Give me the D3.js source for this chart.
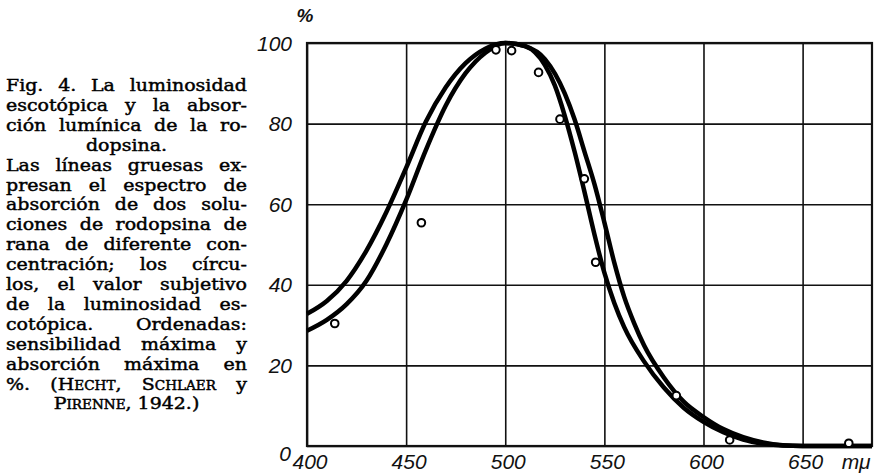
<!DOCTYPE html>
<html>
<head>
<meta charset="utf-8">
<script src="https://cdn.jsdelivr.net/npm/d3@7"></script>
<style>
  body { margin: 0; background: #fff; }
  svg { display: block; }
</style>
</head>
<body>
<div id="chart"></div>
<script>
// two rhodopsin absorption curves (A = the broader, outer one)
const waveA = [400, 410, 420, 430, 440, 450, 460, 470, 480, 490, 500, 510, 520, 530, 535, 540, 545, 550, 555, 560, 565, 570, 580, 590, 600, 610, 620, 630, 640, 650, 685];
const absA  = [32.8, 36, 41, 48.5, 58, 69, 80.5, 89, 95, 98.6, 100, 99.2, 96, 87.5, 81, 73, 65, 55.5, 45.5, 37, 30.5, 25, 17, 11, 7.2, 4.2, 2.2, 0.9, 0.2, 0, 0];

const waveB = [400, 410, 420, 430, 440, 450, 460, 470, 480, 490, 500, 510, 520, 525, 530, 535, 540, 545, 550, 555, 560, 570, 580, 590, 600, 610, 620, 630, 640, 650, 685];
const absB  = [28.6, 31.3, 35.2, 41, 50, 61, 73.5, 84.5, 92.5, 97.6, 100, 99.2, 94.5, 89.5, 82, 73, 63, 52.5, 43, 35.5, 29.5, 21, 14.5, 9.5, 6, 3.4, 1.6, 0.6, 0.1, 0, 0];

// scotopic luminosity (circles)
const pointWave = [414, 457.7, 495.3, 503.2, 516.8, 527.6, 539.9, 545.6, 586.3, 613.2, 673.3];
const pointLum  = [30.4, 55.4, 98.3, 98.1, 92.7, 81.1, 66.3, 45.6, 12.5, 1.5, 0.7];

const xTicks = [400, 450, 500, 550, 600, 650];
const yTicks = [0, 20, 40, 60, 80, 100];

const captionLines = [
  "Fig. 4.  La luminosidad",
  "escotópica y la absor-",
  "ción lumínica de la ro-",
  "dopsina.",
  "Las líneas gruesas ex-",
  "presan el espectro de",
  "absorción de dos solu-",
  "ciones de rodopsina de",
  "rana de diferente con-",
  "centración; los círcu-",
  "los, el valor subjetivo",
  "de la luminosidad es-",
  "cotópica. Ordenadas:",
  "sensibilidad máxima y",
  "absorción máxima en",
  "%. (Hecht, Schlaer y",
  "Pirenne, 1942.)"
];
const centeredLines = [3, 16];
const smallCapsWords = ["(Hecht,", "Schlaer", "Pirenne,"];

const width = 876, height = 474;
const margin = {top: 43, right: 4, bottom: 28, left: 307};

const svg = d3.select('#chart')
  .append('svg')
  .attr('width', width)
  .attr('height', height)
  .style('background', '#fff');

const x = d3.scaleLinear().domain([400, 685]).range([margin.left, width - margin.right]);
const y = d3.scaleLinear().domain([0, 100]).range([height - margin.bottom, margin.top]);

const axisFont = '"Liberation Sans", Arial, sans-serif';

// grid
svg.append('g')
  .attr('transform', `translate(0,${y(0)})`)
  .call(d3.axisBottom(x).tickValues(xTicks).tickSize(-(y(0) - y(100))).tickFormat(''))
  .call(g => g.select('.domain').remove())
  .call(g => g.selectAll('line').attr('stroke', '#111').attr('stroke-width', 1.6));

svg.append('g')
  .attr('transform', `translate(${x(400)},0)`)
  .call(d3.axisLeft(y).tickValues(yTicks).tickSize(-(x(685) - x(400))).tickFormat(''))
  .call(g => g.select('.domain').remove())
  .call(g => g.selectAll('line').attr('stroke', '#111').attr('stroke-width', 1.6));

// frame
svg.append('rect')
  .attr('x', x(400))
  .attr('y', y(100))
  .attr('width', x(685) - x(400))
  .attr('height', y(0) - y(100))
  .attr('fill', 'none')
  .attr('stroke', '#111')
  .attr('stroke-width', 2.2);

// tick labels
svg.append('g')
  .selectAll('text')
  .data(xTicks)
  .join('text')
  .attr('x', d => x(d) + 3)
  .attr('y', 469)
  .attr('text-anchor', 'middle')
  .attr('font-family', axisFont)
  .attr('font-style', 'italic')
  .attr('font-size', 21)
  .attr('fill', '#111')
  .text(d => d);

svg.append('text')
  .attr('x', x(677))
  .attr('y', 469)
  .attr('text-anchor', 'middle')
  .attr('font-family', axisFont)
  .attr('font-style', 'italic')
  .attr('font-size', 21)
  .attr('fill', '#111')
  .text('mμ');

svg.append('g')
  .selectAll('text')
  .data(yTicks)
  .join('text')
  .attr('x', d => d === 0 ? x(400) - 16 : x(400) - 15)
  .attr('y', d => d === 0 ? y(0) + 7 : y(d))
  .attr('dy', '0.36em')
  .attr('text-anchor', 'end')
  .attr('font-family', axisFont)
  .attr('font-style', 'italic')
  .attr('font-size', 21)
  .attr('fill', '#111')
  .text(d => d);

svg.append('text')
  .attr('x', x(400) - 2)
  .attr('y', 22)
  .attr('text-anchor', 'middle')
  .attr('font-family', axisFont)
  .attr('font-style', 'italic')
  .attr('font-weight', 'bold')
  .attr('font-size', 19)
  .attr('fill', '#111')
  .text('%');

// curves
const line = d3.line()
  .x(d => x(d[0]))
  .y(d => y(d[1]))
  .curve(d3.curveMonotoneX);

[[waveA, absA], [waveB, absB]].forEach(([w, a]) => {
  svg.append('path')
    .datum(w.map((d, i) => [d, a[i]]))
    .attr('d', line)
    .attr('fill', 'none')
    .attr('stroke', '#000')
    .attr('stroke-width', 4.5)
    .attr('stroke-linejoin', 'round');
});

// circles
svg.append('g')
  .selectAll('circle')
  .data(pointWave.map((d, i) => [d, pointLum[i]]))
  .join('circle')
  .attr('cx', d => x(d[0]))
  .attr('cy', d => y(d[1]))
  .attr('r', 3.8)
  .attr('fill', '#fff')
  .attr('stroke', '#000')
  .attr('stroke-width', 2);

// caption, justified word by word (tight leading as in print, glyphs a bit widened)
const capLeft = 6, capRight = 247, capTop = 91, capStep = 19.9, stretch = 1.13;
const cap = svg.append('g')
  .attr('font-family', '"DejaVu Serif", "Liberation Serif", serif')
  .attr('font-size', 16.8)
  .attr('fill', '#000')
  .attr('stroke', '#000')
  .attr('stroke-width', 0.45);

captionLines.forEach((ln, i) => {
  const words = ln.split(/\s+/);
  const g = cap.append('g');
  const nodes = words.map(w => g.append('text')
    .attr('y', capTop + i * capStep)
    .style('font-variant', smallCapsWords.includes(w) ? 'small-caps' : null)
    .text(w));
  const widths = nodes.map(n => n.node().getComputedTextLength() * stretch);
  nodes.forEach((n, k) => n.attr('textLength', widths[k]).attr('lengthAdjust', 'spacingAndGlyphs'));
  const total = d3.sum(widths);
  const full = capRight - capLeft;
  let gap, start;
  if (centeredLines.includes(i) || words.length === 1) {
    gap = 6;
    start = capLeft + (full - total - gap * (words.length - 1)) / 2;
  } else {
    gap = (full - total) / (words.length - 1);
    start = capLeft;
  }
  let cx = start;
  nodes.forEach((n, k) => {
    n.attr('x', cx);
    cx += widths[k] + gap;
  });
});
</script>
</body>
</html>
